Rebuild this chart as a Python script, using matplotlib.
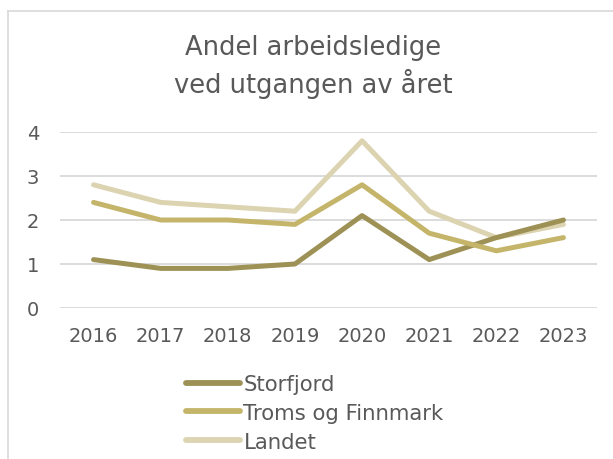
import matplotlib.pyplot as plt
from matplotlib.lines import Line2D
import numpy as np

# --- data ---
years = ['2016', '2017', '2018', '2019', '2020', '2021', '2022', '2023']
storfjord = [1.1, 0.9, 0.9, 1.0, 2.1, 1.1, 1.6, 2.0]
troms_finnmark = [2.4, 2.0, 2.0, 1.9, 2.8, 1.7, 1.3, 1.6]
landet = [2.8, 2.4, 2.3, 2.2, 3.8, 2.2, 1.6, 1.9]
yticks = [0, 1, 2, 3, 4]

text_col = '#595959'
grid_col = '#d9d9d9'

fig = plt.figure(figsize=(6.13, 4.6), dpi=100)
ax = fig.add_axes([60 / 613, 1 - 309 / 460, 537 / 613, 176 / 460])

x = np.arange(len(years))
lw = 3.6
ax.plot(x, storfjord, color='#9e9156', lw=lw, label='Storfjord', solid_capstyle='round', zorder=3)
ax.plot(x, troms_finnmark, color='#c4b56b', lw=lw, label='Troms og Finnmark', solid_capstyle='round', zorder=3)
ax.plot(x, landet, color='#dcd3b0', lw=lw, label='Landet', solid_capstyle='round', zorder=2)

ax.set_xlim(-0.5, len(years) - 0.5)
ax.set_ylim(0, 4)
ax.set_yticks(yticks)
ax.set_xticks(x)
ax.set_xticklabels(years)
ax.yaxis.grid(True, color=grid_col, lw=1.3)
ax.set_axisbelow(True)
for s in ax.spines.values():
    s.set_visible(False)
ax.tick_params(length=0, labelsize=14, colors=text_col)
ax.tick_params(axis='x', pad=13)
ax.tick_params(axis='y', pad=15)

fig.text(313 / 613, 1 - 67 / 460, 'Andel arbeidsledige\nved utgangen av året',
         ha='center', va='center', fontsize=18.5, color=text_col, linespacing=1.3)

leg = fig.legend(loc='upper left', bbox_to_anchor=(186 / 613, 1 - 375 / 460),
                 frameon=False, fontsize=15.3, handlelength=2.55, handletextpad=0.15,
                 labelspacing=0.42, borderaxespad=0, borderpad=0)
for t in leg.get_texts():
    t.set_color(text_col)
for h in leg.legend_handles:
    h.set_linewidth(4.2)

# outer frame (only top and left edges are visible in the crop)
fig.add_artist(Line2D([8 / 613, 8 / 613], [0, 1 - 12 / 460], color='#d9d9d9', lw=1.2))
fig.add_artist(Line2D([8 / 613, 1], [1 - 12 / 460, 1 - 12 / 460], color='#d9d9d9', lw=1.2))

fig.savefig('out.png', dpi=100)
